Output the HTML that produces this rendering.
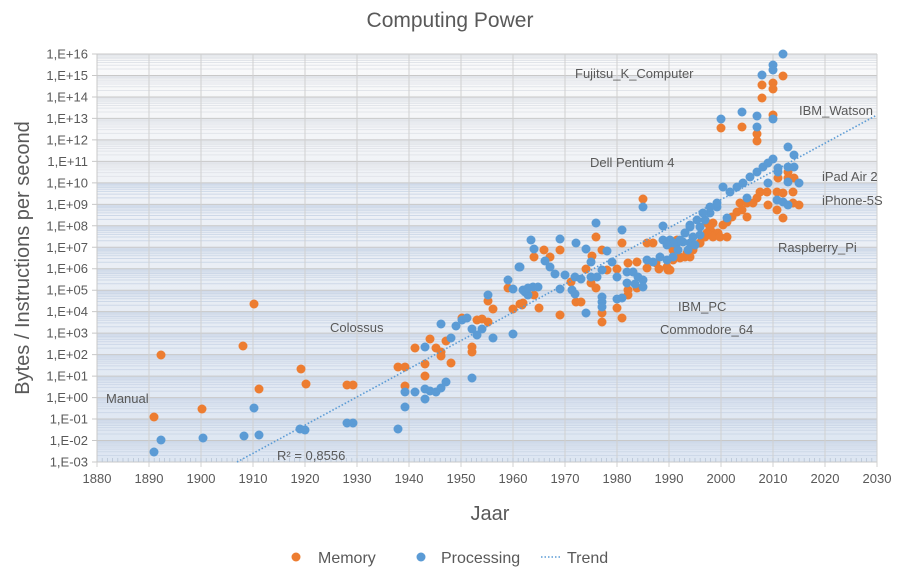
<!DOCTYPE html>
<html><head><meta charset="utf-8"><style>
body{margin:0;background:#fff;}
svg text{font-family:"Liberation Sans",sans-serif;fill:#595959;}
</style></head><body>
<svg id="s" width="901" height="576" xmlns="http://www.w3.org/2000/svg">
<defs><linearGradient id="g" x1="0" y1="0" x2="0" y2="1">
<stop offset="0" stop-color="#fafafa"/><stop offset="0.35" stop-color="#eef1f6"/><stop offset="1" stop-color="#dde6f2"/></linearGradient></defs>
<rect x="97" y="54" width="780" height="408" fill="url(#g)"/>
<g id="grid"></g>
<g id="pts"></g>
<line x1="237" y1="462" x2="877" y2="115" stroke="#5b9bd5" stroke-width="1.6" stroke-dasharray="1.5,2"/>
<text x="450" y="27" text-anchor="middle" font-size="21">Computing Power</text>
<text transform="translate(29,258) rotate(-90)" text-anchor="middle" font-size="20">Bytes / Instructions per second</text>
<text x="490" y="520" text-anchor="middle" font-size="20">Jaar</text>
<g font-size="13">
<text x="106" y="403">Manual</text>
<text x="330" y="332">Colossus</text>
<text x="575" y="78">Fujitsu_K_Computer</text>
<text x="799" y="115">IBM_Watson</text>
<text x="590" y="167">Dell Pentium 4</text>
<text x="822" y="181">iPad Air 2</text>
<text x="822" y="205">iPhone-5S</text>
<text x="778" y="252">Raspberry_Pi</text>
<text x="678" y="311">IBM_PC</text>
<text x="660" y="334">Commodore_64</text>
<text x="277" y="460">R² = 0,8556</text>
</g>
<g font-size="16">
<circle cx="296" cy="557" r="4.5" fill="#ed7d31"/><text x="318" y="563">Memory</text>
<circle cx="421" cy="557" r="4.5" fill="#5b9bd5"/><text x="441" y="563">Processing</text>
<line x1="541" y1="557" x2="561" y2="557" stroke="#5b9bd5" stroke-width="1.6" stroke-dasharray="1.5,2"/><text x="567" y="563">Trend</text>
</g>
<g id="ax" font-size="13"></g>
</svg>
<script>
(function(){
var NS="http://www.w3.org/2000/svg";
function el(p,t,a,txt){var e=document.createElementNS(NS,t);for(var k in a)e.setAttribute(k,a[k]);if(txt!=null)e.textContent=txt;p.appendChild(e);return e;}
var grid=document.getElementById('grid'),ax=document.getElementById('ax'),pts=document.getElementById('pts');
var yTop=54,yBot=462,dec=(yBot-yTop)/19;
for(var d=0;d<19;d++){var yb=yBot-d*dec;for(var m=2;m<10;m++){var y=yb-Math.log10(m)*dec;
var c=d>12?'#e2e5ea':'#cdd8e8';el(grid,'line',{x1:97,x2:877,y1:y,y2:y,stroke:c,'stroke-width':1});}}
for(var d=0;d<=19;d++){var y=yBot-d*dec;el(grid,'line',{x1:92,x2:877,y1:y,y2:y,stroke:'#c8c8c8','stroke-width':1});
var e=d-3;var lab='1,E'+(e<0?'-':'+')+(Math.abs(e)<10?'0':'')+Math.abs(e);
el(ax,'text',{x:88,y:y+4.5,'text-anchor':'end'},lab);}
for(var i=0;i<=15;i++){var x=97+i*52;el(grid,'line',{x1:x,x2:x,y1:54,y2:467,stroke:'#d0d0d0','stroke-width':1});
el(ax,'text',{x:x,y:483,'text-anchor':'middle'},String(1880+i*10));}
for(var x=97;x<877;x+=5.2)el(grid,'line',{x1:x,x2:x,y1:458,y2:462,stroke:'#b8c4d4','stroke-width':0.8});
el(grid,'line',{x1:97,x2:97,y1:54,y2:462,stroke:'#c8c8c8'});
var O=[[154,417],[161,355],[202,409],[243,346],[254,304],[259,389],[301,369],[306,384],[347,385],[353,385],[398,367],[405,367],[405,386],[415,348],[425,364],[425,376],[430,339],[436,348],[441,352],[441,356],[446,341],[451,363],[472,347],[472,352],[462,318],[477,320],[482,319],[488,322],[488,301],[493,309],[508,288],[513,309],[520,304],[523,303],
[643,199],[596,237],[622,243],[534,257],[544,250],[560,250],[550,257],[602,250],[592,256],[586,269],[607,270],[617,269],[628,263],[637,262],[647,243],[653,243],[571,282],[591,283],[596,288],[576,302],[581,302],[534,295],[522,305],[539,308],[560,315],[602,313],[602,322],[617,308],[622,318],[628,295],[647,268],[659,269],[668,270],[673,250],[680,257],[685,257],[690,257],[693,250],[700,243],[707,233],[713,233],[718,233],[707,223],[677,240],[656,263],[637,288],[628,290],
[783,76],[773,83],[773,89],[762,85],[762,98],[721,128],[742,127],[773,115],[757,134],[757,141],[788,172],[788,178],[794,178],[778,178],[760,192],[767,192],[777,192],[783,193],[793,192],[768,205],[777,210],[783,218],[793,203],[799,205],[757,198],[740,203],[747,203],[753,203],[737,212],[742,210],[747,217],[732,217],[727,222],[723,225],[713,223],[710,228],[707,233],[705,237],[713,237],[720,237],[727,237],[700,243],[693,247],[687,253],[680,258],[673,260],[667,267],[670,270]];
var B=[[154,452],[161,440],[203,438],[244,436],[254,408],[259,435],[300,429],[305,430],[347,423],[353,423],[398,429],[405,392],[405,407],[415,392],[425,347],[425,389],[430,391],[436,392],[441,388],[446,382],[425,399],[441,324],[451,338],[456,326],[462,320],[467,318],[472,329],[477,335],[482,329],[472,378],[488,295],[493,338],[508,280],[513,289],[513,334],[519,267],[525,292],[528,295],[531,240],
[643,207],[596,223],[622,230],[560,239],[576,243],[534,249],[545,261],[550,267],[555,274],[565,275],[575,277],[581,279],[586,249],[591,262],[591,277],[597,277],[602,270],[607,251],[612,262],[617,277],[627,272],[633,272],[638,277],[643,280],[627,283],[635,284],[643,287],[560,289],[572,290],[575,294],[602,297],[602,302],[602,307],[617,299],[622,298],[586,313],[520,267],[523,290],[528,288],[533,287],[538,287],[663,226],[647,260],[653,262],[663,240],[670,240],[677,243],[683,242],[690,243],[693,237],[700,227],[705,220],[710,213],[717,207],[660,257],[667,260],[673,257],[685,233],[690,227],
[783,54],[773,65],[773,70],[762,75],[721,119],[742,112],[757,116],[757,127],[773,119],[788,147],[794,155],[773,159],[778,168],[778,172],[788,167],[794,167],[788,182],[799,183],[768,183],[777,200],[783,202],[788,205],[723,187],[730,192],[737,187],[743,183],[750,177],[757,172],[763,167],[768,163],[717,203],[710,207],[703,213],[697,220],[690,225],[685,233],[680,240],[673,243],[667,245],[747,198],[727,218],[700,235],[695,245],[688,250],[678,250]];
O.forEach(function(p){el(pts,'circle',{cx:p[0],cy:p[1],r:4.5,fill:'#ed7d31'});});
B.forEach(function(p){el(pts,'circle',{cx:p[0],cy:p[1],r:4.5,fill:'#5b9bd5'});});
})();
</script>
</body></html>
